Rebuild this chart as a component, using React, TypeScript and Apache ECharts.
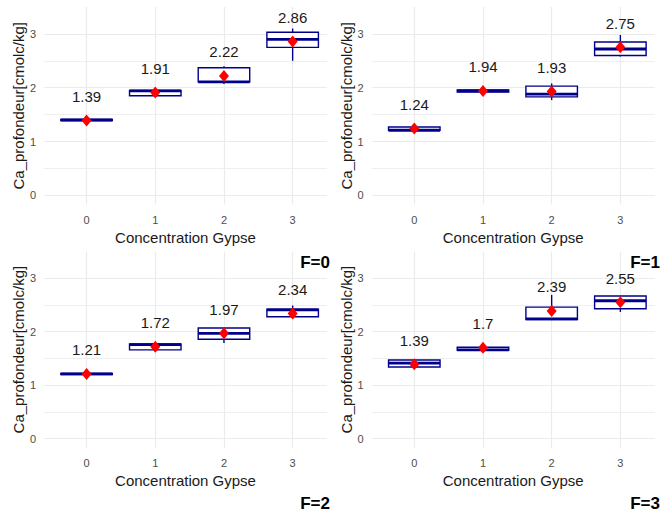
import React, { useEffect, useRef } from "react";
import * as echarts from "echarts";

// Gypsum concentration levels (x positions of the boxes)
const gypse = [0, 1, 2, 3];
const yMajor = [0, 1, 2, 3];
const yMinor = [0.5, 1.5, 2.5];

// Box statistics per gypsum level: [min, Q1, median, Q3, max]
const boxF0 = [
  [1.39, 1.39, 1.4, 1.41, 1.41],
  [1.84, 1.85, 1.94, 1.95, 1.95],
  [2.07, 2.11, 2.11, 2.37, 2.4],
  [2.5, 2.75, 2.9, 3.03, 3.1],
];
const boxF1 = [
  [1.2, 1.21, 1.21, 1.27, 1.27],
  [1.91, 1.92, 1.94, 1.96, 1.97],
  [1.77, 1.83, 1.88, 2.03, 2.08],
  [2.58, 2.6, 2.72, 2.85, 2.98],
];
const boxF2 = [
  [1.2, 1.2, 1.21, 1.22, 1.22],
  [1.66, 1.66, 1.76, 1.77, 1.77],
  [1.79, 1.86, 1.97, 2.07, 2.07],
  [2.24, 2.28, 2.41, 2.42, 2.49],
];
const boxF3 = [
  [1.34, 1.34, 1.41, 1.47, 1.47],
  [1.64, 1.65, 1.66, 1.71, 1.71],
  [2.23, 2.23, 2.24, 2.46, 2.69],
  [2.37, 2.43, 2.58, 2.67, 2.67],
];

// Mean per gypsum level (red diamonds, labelled)
const meanF0 = [1.39, 1.91, 2.22, 2.86];
const meanF1 = [1.24, 1.94, 1.93, 2.75];
const meanF2 = [1.21, 1.72, 1.97, 2.34];
const meanF3 = [1.39, 1.7, 2.39, 2.55];

const facetLabels = ["F=0", "F=1", "F=2", "F=3"];

const FONT = "'Liberation Sans', Arial, sans-serif";
const BOX_COLOR = "#00008B";
const GRID_COLOR = "#ebebeb";

const panels = [
  { boxes: boxF0, means: meanF0 },
  { boxes: boxF1, means: meanF1 },
  { boxes: boxF2, means: meanF2 },
  { boxes: boxF3, means: meanF3 },
];

const grids = [
  { left: 44, top: 7, width: 283, height: 197.5 },
  { left: 371.7, top: 7, width: 283, height: 197.5 },
  { left: 44, top: 251.6, width: 283, height: 196 },
  { left: 371.7, top: 251.6, width: 283, height: 196 },
];

const tagPositions = [
  { x: 330, y: 262 },
  { x: 660, y: 262 },
  { x: 330, y: 503 },
  { x: 660, y: 503 },
];

function renderBox(params: any, api: any) {
  const x = api.value(0);
  const pLo = api.coord([x, api.value(1)]);
  const pQ1 = api.coord([x, api.value(2)]);
  const pMed = api.coord([x, api.value(3)]);
  const pQ3 = api.coord([x, api.value(4)]);
  const pHi = api.coord([x, api.value(5)]);
  const half = api.size([0.75, 0])[0] / 2;
  const cx = pMed[0];
  const lw = 1.4;
  return {
    type: "group",
    children: [
      {
        type: "line",
        shape: { x1: cx, y1: pHi[1], x2: cx, y2: pQ3[1] },
        style: { stroke: BOX_COLOR, lineWidth: lw },
      },
      {
        type: "line",
        shape: { x1: cx, y1: pQ1[1], x2: cx, y2: pLo[1] },
        style: { stroke: BOX_COLOR, lineWidth: lw },
      },
      {
        type: "rect",
        shape: { x: cx - half, y: pQ3[1], width: 2 * half, height: pQ1[1] - pQ3[1] },
        style: { fill: "#ffffff", stroke: BOX_COLOR, lineWidth: lw },
      },
      {
        type: "line",
        shape: { x1: cx - half, y1: pMed[1], x2: cx + half, y2: pMed[1] },
        style: { stroke: BOX_COLOR, lineWidth: 2.8 },
      },
    ],
  };
}

function buildOption() {
  const xAxis: any[] = [];
  const yAxis: any[] = [];
  const series: any[] = [];

  panels.forEach((p, i) => {
    xAxis.push({
      type: "value",
      gridIndex: i,
      min: -0.62,
      max: 3.5,
      name: "Concentration Gypse",
      nameLocation: "middle",
      nameGap: 25,
      nameTextStyle: { color: "#1a1a1a", fontSize: 15, fontFamily: FONT },
      axisLine: { show: false },
      axisTick: { show: false },
      splitLine: { show: false },
      axisLabel: {
        customValues: gypse,
        color: "#4d4d4d",
        fontSize: 11,
        fontFamily: FONT,
        margin: 10,
      },
    });
    yAxis.push({
      type: "value",
      gridIndex: i,
      min: -0.17,
      max: 3.5,
      name: "Ca_profondeur[cmolc/kg]",
      nameLocation: "middle",
      nameRotate: 90,
      nameGap: 18,
      nameTextStyle: { color: "#1a1a1a", fontSize: 15, fontFamily: FONT },
      axisLine: { show: false },
      axisTick: { show: false },
      splitLine: { show: false },
      axisLabel: {
        customValues: yMajor,
        color: "#4d4d4d",
        fontSize: 11,
        fontFamily: FONT,
        margin: 8,
      },
    });

    // panel grid lines, kept underneath the boxes
    series.push({
      type: "scatter",
      xAxisIndex: i,
      yAxisIndex: i,
      data: [],
      silent: true,
      z: 1,
      markLine: {
        z: 1,
        silent: true,
        symbol: ["none", "none"],
        label: { show: false },
        emphasis: { disabled: true },
        data: [
          ...yMajor.map((v) => ({ yAxis: v, lineStyle: { color: GRID_COLOR, width: 1.2, type: "solid" } })),
          ...yMinor.map((v) => ({ yAxis: v, lineStyle: { color: GRID_COLOR, width: 0.8, type: "solid" } })),
          ...gypse.map((v) => ({ xAxis: v, lineStyle: { color: GRID_COLOR, width: 1.2, type: "solid" } })),
        ],
      },
    });

    series.push({
      type: "custom",
      xAxisIndex: i,
      yAxisIndex: i,
      z: 10,
      silent: true,
      renderItem: renderBox,
      encode: { x: 0, y: [1, 2, 3, 4, 5] },
      data: p.boxes.map((b, k) => [gypse[k], ...b]),
    });

    series.push({
      type: "scatter",
      xAxisIndex: i,
      yAxisIndex: i,
      z: 12,
      silent: true,
      symbol: "diamond",
      symbolSize: [10, 12],
      itemStyle: { color: "#ff0000", opacity: 1 },
      data: p.means.map((m, k) => [gypse[k], m]),
      label: {
        show: true,
        position: "inside",
        offset: [0, -24],
        formatter: (d: any) => String(d.value[1]),
        color: "#1a1a1a",
        fontSize: 15,
        fontFamily: FONT,
      },
    });
  });

  return {
    animation: false,
    backgroundColor: "#ffffff",
    grid: grids.map((g) => ({ ...g, containLabel: false })),
    xAxis,
    yAxis,
    series,
    graphic: facetLabels.map((t, i) => ({
      type: "text",
      x: tagPositions[i].x,
      y: tagPositions[i].y,
      style: {
        text: t,
        align: "right",
        verticalAlign: "middle",
        fontSize: 17,
        fontWeight: "bold",
        fontFamily: FONT,
        fill: "#000000",
      },
    })),
  };
}

export default function App() {
  const ref = useRef<HTMLDivElement>(null);
  useEffect(() => {
    if (!ref.current) return;
    const chart = echarts.init(ref.current, undefined, { renderer: "svg" });
    chart.setOption(buildOption() as any);
    return () => chart.dispose();
  }, []);
  return (
    <div
      ref={ref}
      style={{ position: "fixed", left: 0, top: 0, width: 663, height: 514, background: "#fff" }}
    />
  );
}
